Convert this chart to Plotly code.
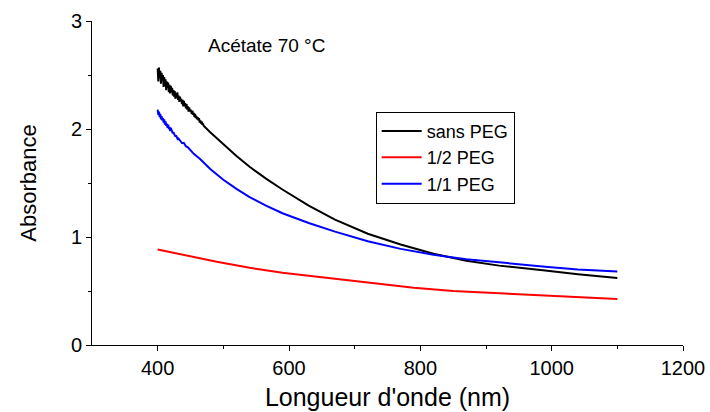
import plotly.graph_objects as go

# ---- data ----
sans_x = list(range(400, 451)) + list(range(452, 471)) + [480, 500, 520, 540, 565, 590, 630,
                                                        670, 720, 770, 820, 870, 920, 990, 1040, 1100]
sans_y = [2.56, 2.44, 2.57, 2.47, 2.54, 2.42, 2.52, 2.45, 2.50, 2.39,
          2.48, 2.40, 2.46, 2.36, 2.44, 2.38, 2.43, 2.34, 2.41, 2.33,
          2.40, 2.34, 2.38, 2.31, 2.36, 2.30, 2.35, 2.28, 2.33, 2.29,
          2.34, 2.27, 2.31, 2.25, 2.30, 2.26, 2.28, 2.23, 2.27, 2.21,
          2.26, 2.21, 2.24, 2.19, 2.23, 2.18, 2.21, 2.16, 2.20, 2.16,
          2.18,
          2.14, 2.17, 2.13, 2.15, 2.11, 2.14, 2.10, 2.12, 2.09, 2.11,
          2.08, 2.10, 2.06, 2.08, 2.05, 2.07, 2.04, 2.05, 2.03,
          1.97, 1.86, 1.75, 1.65, 1.54, 1.44, 1.29, 1.16, 1.03, 0.93, 0.845,
          0.78, 0.735, 0.69, 0.655, 0.62]

half_x = [400, 440, 490, 540, 590, 640, 690, 740, 790, 850, 900, 950, 1000, 1050, 1100]
half_y = [0.885, 0.835, 0.77, 0.715, 0.67, 0.635, 0.60, 0.565, 0.53, 0.50, 0.485, 0.47, 0.455, 0.44, 0.425]

one_x = list(range(400, 421)) + [422, 423, 424, 426, 427, 428, 430, 431, 432, 434, 435, 437,
                                  440, 443, 446, 450, 455, 465, 480, 500, 520, 540, 565, 590,
                                  630, 670, 720, 770, 820, 870, 920, 990, 1040, 1100]
one_y = [2.18, 2.13, 2.16, 2.11, 2.14, 2.09, 2.12, 2.08, 2.10, 2.06,
         2.09, 2.04, 2.07, 2.03, 2.05, 2.01, 2.04, 2.00, 2.02, 1.98,
         2.01,
         1.98, 1.96, 1.97, 1.95, 1.93, 1.94, 1.92, 1.90, 1.91, 1.89, 1.88, 1.87,
         1.87, 1.84, 1.83, 1.80, 1.77, 1.72, 1.63, 1.53, 1.445, 1.37, 1.29, 1.22,
         1.13, 1.05, 0.96, 0.89, 0.835, 0.795, 0.765, 0.725, 0.70, 0.68]

series = [
    ("sans PEG", sans_x, sans_y, "#000000"),
    ("1/2 PEG", half_x, half_y, "#ff0000"),
    ("1/1 PEG", one_x, one_y, "#0000ff"),
]

x_ticks = [400, 600, 800, 1000, 1200]
x_minor = [500, 700, 900, 1100]
y_ticks = [0, 1, 2, 3]
y_minor = [0.5, 1.5, 2.5]

FONT = "Liberation Sans, Arial, sans-serif"

fig = go.Figure()
for name, xs, ys, col in series:
    fig.add_trace(go.Scatter(x=xs, y=ys, mode="lines", name=name,
                             line=dict(color=col, width=2)))

fig.add_annotation(x=473, y=2.77, xref="x", yref="y", text="Acétate 70 °C",
                   showarrow=False, xanchor="left", yanchor="middle",
                   font=dict(family=FONT, size=19, color="black"))

fig.update_layout(
    width=710, height=412,
    margin=dict(l=92, r=27, t=21, b=67),
    paper_bgcolor="white", plot_bgcolor="white",
    font=dict(family=FONT, color="black"),
    showlegend=True,
    legend=dict(x=0.48, y=0.72, xanchor="left", yanchor="top",
                bgcolor="white", bordercolor="black", borderwidth=1,
                font=dict(family=FONT, size=18, color="black"),
                tracegroupgap=0, itemwidth=40),
    xaxis=dict(range=[300, 1200], showline=True, linecolor="black", linewidth=1,
               showgrid=False, zeroline=False, ticks="outside", ticklen=5,
               tickcolor="black", tickvals=x_ticks, automargin=False,
               minor=dict(tickvals=x_minor, ticks="outside", ticklen=3, tickcolor="black", showgrid=False),
               tickfont=dict(family=FONT, size=20),
               title=dict(text="Longueur d'onde (nm)", font=dict(family=FONT, size=25), standoff=10)),
    yaxis=dict(range=[0, 3], showline=True, linecolor="black", linewidth=1,
               showgrid=False, zeroline=False, ticks="outside", ticklen=5,
               tickcolor="black", tickvals=y_ticks, automargin=False,
               minor=dict(tickvals=y_minor, ticks="outside", ticklen=3, tickcolor="black", showgrid=False),
               tickfont=dict(family=FONT, size=20),
               title=dict(text="Absorbance", font=dict(family=FONT, size=22), standoff=28)),
)

fig.write_html("out.html")
